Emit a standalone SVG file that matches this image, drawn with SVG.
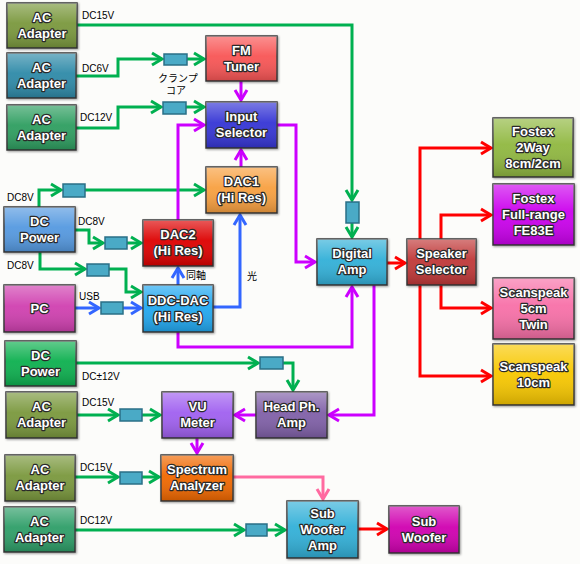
<svg xmlns="http://www.w3.org/2000/svg" width="580" height="564" viewBox="0 0 580 564">
<style>
.bx{stroke:#3a3a3a;stroke-width:1.5;filter:url(#sh)}
.gl{fill:url(#gloss);stroke:none}
.t{font-family:"Liberation Sans",Arial,sans-serif;font-weight:bold;font-size:13px;fill:#fff;stroke:#2a2a2a;stroke-width:2.4;paint-order:stroke;stroke-linejoin:round;text-anchor:middle}
.l{font-family:"Liberation Sans","Noto Sans CJK JP",sans-serif;font-size:10px;fill:#000}
.c{fill:none;stroke-width:3}
.g{stroke:#00b050;marker-end:url(#ag)}
.m{stroke:#cc00ff;marker-end:url(#am)}
.b{stroke:#3366ff;marker-end:url(#ab)}
.r{stroke:#ff0000;marker-end:url(#ar)}
.p{stroke:#ff6aa0;marker-end:url(#ap)}
.core{fill:#4aaac6;stroke:#2a6f86;stroke-width:1.5}
</style>
<defs>
<linearGradient id="gloss" x1="0" y1="0" x2="0" y2="1">
<stop offset="0" stop-color="#fff" stop-opacity="0.35"/>
<stop offset="0.45" stop-color="#fff" stop-opacity="0.05"/>
<stop offset="1" stop-color="#000" stop-opacity="0.18"/>
</linearGradient>
<filter id="sh" x="-10%" y="-10%" width="130%" height="130%">
<feDropShadow dx="1" dy="1" stdDeviation="0.8" flood-opacity="0.4"/>
</filter>
<marker id="ag" markerUnits="userSpaceOnUse" viewBox="-2 -2 16 16" markerWidth="16" markerHeight="16" refX="10" refY="6" orient="auto"><path d="M0,0 L10,6 L0,12" fill="none" stroke="#00b050" stroke-width="3"/></marker>
<marker id="am" markerUnits="userSpaceOnUse" viewBox="-2 -2 16 16" markerWidth="16" markerHeight="16" refX="10" refY="6" orient="auto"><path d="M0,0 L10,6 L0,12" fill="none" stroke="#cc00ff" stroke-width="3"/></marker>
<marker id="ab" markerUnits="userSpaceOnUse" viewBox="-2 -2 16 16" markerWidth="16" markerHeight="16" refX="10" refY="6" orient="auto"><path d="M0,0 L10,6 L0,12" fill="none" stroke="#3366ff" stroke-width="3"/></marker>
<marker id="ar" markerUnits="userSpaceOnUse" viewBox="-2 -2 16 16" markerWidth="16" markerHeight="16" refX="10" refY="6" orient="auto"><path d="M0,0 L10,6 L0,12" fill="none" stroke="#ff0000" stroke-width="3"/></marker>
<marker id="ap" markerUnits="userSpaceOnUse" viewBox="-2 -2 16 16" markerWidth="16" markerHeight="16" refX="10" refY="6" orient="auto"><path d="M0,0 L10,6 L0,12" fill="none" stroke="#ff6aa0" stroke-width="3"/></marker>
</defs>
<rect width="580" height="564" fill="#fcfcfa"/>

<g id="connectors">
<!-- green power -->
<path class="c g" d="M77,25 H352 V200"/>
<path class="c g" d="M352,223 V237"/>
<path class="c g" d="M76,76 H118 V59 H162"/>
<path class="c g" d="M187,59 H204"/>
<path class="c g" d="M76,128 H118 V107 H161"/>
<path class="c g" d="M186,107 H204"/>
<path class="c g" d="M39,207 V190 H61"/>
<path class="c g" d="M85,190 H204"/>
<path class="c g" d="M75,230 H89 V243 H103"/>
<path class="c g" d="M127,243 H141"/>
<path class="c g" d="M40,252 V269 H85"/>
<path class="c g" d="M109,269 H126 V292 H141"/>
<path class="c g" d="M76,363 H258"/>
<path class="c g" d="M283,363 H293 V390"/>
<path class="c g" d="M77,415 H118"/>
<path class="c g" d="M142,415 H160"/>
<path class="c g" d="M75,477 H118"/>
<path class="c g" d="M142,477 H159"/>
<path class="c g" d="M75,530 H244"/>
<path class="c g" d="M267,530 H285"/>
<!-- magenta -->
<path class="c m" d="M241,81 V100"/>
<path class="c m" d="M241,167 V150"/>
<path class="c m" d="M178,220 V125 H204"/>
<path class="c m" d="M277,125 H296 V262 H315"/>
<path class="c m" d="M178,332 V347 H352 V287"/>
<path class="c m" d="M374,285 V415 H329"/>
<path class="c m" d="M256,415 H235"/>
<path class="c m" d="M197,438 V453"/>
<!-- blue -->
<path class="c b" d="M75,308 H99"/>
<path class="c b" d="M123,308 H141"/>
<path class="c b" d="M178,285 V268"/>
<path class="c b" d="M213,307 H240 V215"/>
<!-- red -->
<path class="c r" d="M387,263 H405"/>
<path class="c r" d="M420,239 V148 H491"/>
<path class="c r" d="M441,239 V215 H491"/>
<path class="c r" d="M441,285 V308 H491"/>
<path class="c r" d="M420,285 V376 H491"/>
<path class="c r" d="M358,529 H387"/>
<!-- pink -->
<path class="c p" d="M233,477 H323 V499"/>
<!-- clamp cores -->
<rect class="core" x="164" y="54" width="23" height="11"/>
<rect class="core" x="163" y="102" width="23" height="12"/>
<rect class="core" x="346" y="202" width="13" height="21"/>
<rect class="core" x="63" y="184" width="22" height="13"/>
<rect class="core" x="105" y="237" width="22" height="12"/>
<rect class="core" x="87" y="264" width="22" height="12"/>
<rect class="core" x="101" y="302" width="22" height="12"/>
<rect class="core" x="260" y="357" width="23" height="12"/>
<rect class="core" x="120" y="409" width="22" height="12"/>
<rect class="core" x="120" y="472" width="22" height="12"/>
<rect class="core" x="246" y="524" width="21" height="12"/>
</g>

<g id="labels">
<text class="l" x="82" y="19">DC15V</text>
<text class="l" x="82" y="72">DC6V</text>
<text class="l" x="80" y="121">DC12V</text>
<text class="l" x="158" y="82">クランプ</text>
<text class="l" x="166" y="94">コア</text>
<text class="l" x="7" y="201">DC8V</text>
<text class="l" x="78" y="225">DC8V</text>
<text class="l" x="7" y="269">DC8V</text>
<text class="l" x="79" y="300">USB</text>
<text class="l" x="186" y="279">同軸</text>
<text class="l" x="247" y="280">光</text>
<text class="l" x="82" y="380">DC±12V</text>
<text class="l" x="82" y="406">DC15V</text>
<text class="l" x="80" y="471">DC15V</text>
<text class="l" x="80" y="524">DC12V</text>
</g>

<g id="ac1"><rect class="bx" x="7" y="3" width="70" height="45" fill="#7a983c"/><rect class="gl" x="7" y="3" width="70" height="45"/><text class="t" x="42" y="22">AC</text><text class="t" x="42" y="38">Adapter</text></g>
<g id="ac2"><rect class="bx" x="7" y="53" width="69" height="45" fill="#2e8aa8"/><rect class="gl" x="7" y="53" width="69" height="45"/><text class="t" x="41.5" y="72">AC</text><text class="t" x="41.5" y="88">Adapter</text></g>
<g id="ac3"><rect class="bx" x="7" y="105" width="69" height="45" fill="#2e9e60"/><rect class="gl" x="7" y="105" width="69" height="45"/><text class="t" x="41.5" y="124">AC</text><text class="t" x="41.5" y="140">Adapter</text></g>
<g id="fm"><rect class="bx" x="206" y="36" width="71" height="45" fill="#f85555"/><rect class="gl" x="206" y="36" width="71" height="45"/><text class="t" x="241.5" y="55">FM</text><text class="t" x="241.5" y="71">Tuner</text></g>
<g id="input"><rect class="bx" x="206" y="102" width="71" height="46" fill="#3535d5"/><rect class="gl" x="206" y="102" width="71" height="46"/><text class="t" x="241.5" y="121">Input</text><text class="t" x="241.5" y="137">Selector</text></g>
<g id="dac1"><rect class="bx" x="206" y="167" width="71" height="46" fill="#f8a040"/><rect class="gl" x="206" y="167" width="71" height="46"/><text class="t" x="241.5" y="186">DAC1</text><text class="t" x="241.5" y="202">(Hi Res)</text></g>
<g id="dcpower"><rect class="bx" x="4" y="207" width="71" height="45" fill="#5599e0"/><rect class="gl" x="4" y="207" width="71" height="45"/><text class="t" x="39.5" y="226">DC</text><text class="t" x="39.5" y="242">Power</text></g>
<g id="dac2"><rect class="bx" x="143" y="220" width="70" height="46" fill="#dd0000"/><rect class="gl" x="143" y="220" width="70" height="46"/><text class="t" x="178" y="239">DAC2</text><text class="t" x="178" y="255">(Hi Res)</text></g>
<g id="pc"><rect class="bx" x="4" y="285" width="71" height="47" fill="#d040b0"/><rect class="gl" x="4" y="285" width="71" height="47"/><text class="t" x="39.5" y="313">PC</text></g>
<g id="ddcdac"><rect class="bx" x="143" y="285" width="70" height="47" fill="#20a8f0"/><rect class="gl" x="143" y="285" width="70" height="47"/><text class="t" x="178" y="305">DDC-DAC</text><text class="t" x="178" y="321">(Hi Res)</text></g>
<g id="digital"><rect class="bx" x="317" y="239" width="70" height="46" fill="#30b0d8"/><rect class="gl" x="317" y="239" width="70" height="46"/><text class="t" x="352" y="258">Digital</text><text class="t" x="352" y="274">Amp</text></g>
<g id="speaker"><rect class="bx" x="407" y="239" width="69" height="46" fill="#c03838"/><rect class="gl" x="407" y="239" width="69" height="46"/><text class="t" x="441.5" y="258">Speaker</text><text class="t" x="441.5" y="274">Selector</text></g>
<g id="fostex2way"><rect class="bx" x="493" y="118" width="80" height="59" fill="#90b840"/><rect class="gl" x="493" y="118" width="80" height="59"/><text class="t" x="533" y="136">Fostex</text><text class="t" x="533" y="152">2Way</text><text class="t" x="533" y="168">8cm/2cm</text></g>
<g id="fostexfull"><rect class="bx" x="493" y="184" width="81" height="61" fill="#cc00ee"/><rect class="gl" x="493" y="184" width="81" height="61"/><text class="t" x="533.5" y="203">Fostex</text><text class="t" x="533.5" y="219">Full-range</text><text class="t" x="533.5" y="235">FE83E</text></g>
<g id="scan5"><rect class="bx" x="493" y="278" width="81" height="61" fill="#f870a8"/><rect class="gl" x="493" y="278" width="81" height="61"/><text class="t" x="533.5" y="297">Scanspeak</text><text class="t" x="533.5" y="313">5cm</text><text class="t" x="533.5" y="329">Twin</text></g>
<g id="scan10"><rect class="bx" x="493" y="344" width="81" height="61" fill="#f8c800"/><rect class="gl" x="493" y="344" width="81" height="61"/><text class="t" x="533.5" y="371">Scanspeak</text><text class="t" x="533.5" y="387">10cm</text></g>
<g id="dcpower2"><rect class="bx" x="5" y="341" width="71" height="45" fill="#10b050"/><rect class="gl" x="5" y="341" width="71" height="45"/><text class="t" x="40.5" y="360">DC</text><text class="t" x="40.5" y="376">Power</text></g>
<g id="ac4"><rect class="bx" x="6" y="392" width="71" height="46" fill="#7a983c"/><rect class="gl" x="6" y="392" width="71" height="46"/><text class="t" x="41.5" y="411">AC</text><text class="t" x="41.5" y="427">Adapter</text></g>
<g id="vu"><rect class="bx" x="162" y="392" width="71" height="46" fill="#a060f0"/><rect class="gl" x="162" y="392" width="71" height="46"/><text class="t" x="197.5" y="411">VU</text><text class="t" x="197.5" y="427">Meter</text></g>
<g id="headph"><rect class="bx" x="256" y="392" width="71" height="46" fill="#8060a8"/><rect class="gl" x="256" y="392" width="71" height="46"/><text class="t" x="291.5" y="411">Head Ph.</text><text class="t" x="291.5" y="427">Amp</text></g>
<g id="ac5"><rect class="bx" x="5" y="455" width="70" height="46" fill="#7a983c"/><rect class="gl" x="5" y="455" width="70" height="46"/><text class="t" x="40" y="474">AC</text><text class="t" x="40" y="490">Adapter</text></g>
<g id="spectrum"><rect class="bx" x="161" y="455" width="72" height="46" fill="#f06800"/><rect class="gl" x="161" y="455" width="72" height="46"/><text class="t" x="197" y="474">Spectrum</text><text class="t" x="197" y="490">Analyzer</text></g>
<g id="ac6"><rect class="bx" x="4" y="507" width="71" height="45" fill="#2e9e68"/><rect class="gl" x="4" y="507" width="71" height="45"/><text class="t" x="39.5" y="526">AC</text><text class="t" x="39.5" y="542">Adapter</text></g>
<g id="subamp"><rect class="bx" x="287" y="501" width="71" height="57" fill="#30b0d8"/><rect class="gl" x="287" y="501" width="71" height="57"/><text class="t" x="322.5" y="518">Sub</text><text class="t" x="322.5" y="534">Woofer</text><text class="t" x="322.5" y="550">Amp</text></g>
<g id="subwoofer"><rect class="bx" x="389" y="506" width="70" height="47" fill="#d000b0"/><rect class="gl" x="389" y="506" width="70" height="47"/><text class="t" x="424" y="526">Sub</text><text class="t" x="424" y="542">Woofer</text></g>
</svg>
